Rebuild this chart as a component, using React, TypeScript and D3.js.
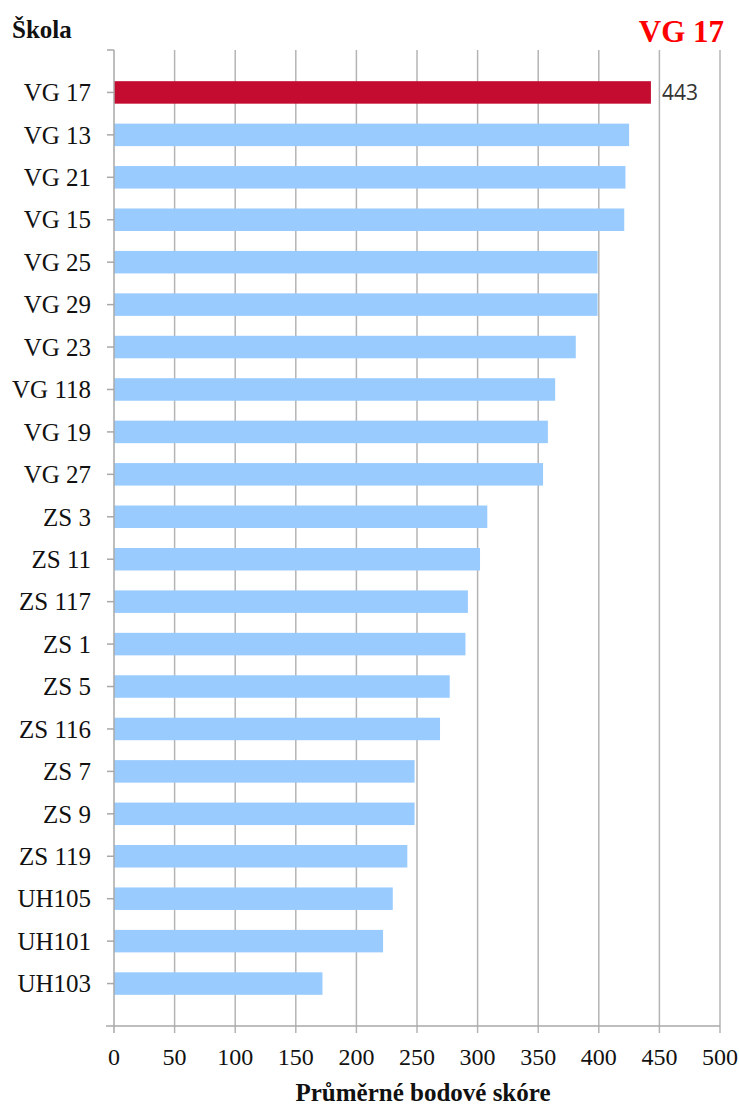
import React, { useEffect, useRef } from "react";
import * as d3 from "d3";

const schools = [
  "VG 17", "VG 13", "VG 21", "VG 15", "VG 25", "VG 29", "VG 23", "VG 118",
  "VG 19", "VG 27", "ZS 3", "ZS 11", "ZS 117", "ZS 1", "ZS 5", "ZS 116",
  "ZS 7", "ZS 9", "ZS 119", "UH105", "UH101", "UH103",
];
const scores = [
  443, 425, 422, 421, 399, 399, 381, 364, 358, 354, 308, 302, 292, 290, 277,
  269, 248, 248, 242, 230, 222, 172,
];
const xTicks = [0, 50, 100, 150, 200, 250, 300, 350, 400, 450, 500];
const highlight = "VG 17";

const W = 739;
const H = 1106;
const left = 114;
const right = 720;
const top = 50;
const bottom = 1026;
const serif = "'Liberation Serif', 'Times New Roman', serif";

export default function App() {
  const ref = useRef<SVGSVGElement>(null);

  useEffect(() => {
    const svg = d3.select(ref.current);
    svg.selectAll("*").remove();

    const x = d3.scaleLinear().domain([0, 500]).range([left, right]);
    const y = d3.scalePoint<string>().domain(schools).range([top, bottom]).padding(1);
    const barH = 22.5;

    // gridlines
    svg
      .append("g")
      .selectAll("line")
      .data(xTicks.slice(1))
      .enter()
      .append("line")
      .attr("x1", (d) => x(d))
      .attr("x2", (d) => x(d))
      .attr("y1", top)
      .attr("y2", bottom + 7)
      .attr("stroke", "#b4b4b4")
      .attr("stroke-width", 1.5);

    // bars
    const data = schools.map((s, i) => ({ school: s, score: scores[i] }));
    svg
      .append("g")
      .selectAll("rect")
      .data(data)
      .enter()
      .append("rect")
      .attr("x", x(0))
      .attr("y", (d) => (y(d.school) as number) - barH / 2)
      .attr("width", (d) => x(d.score) - x(0))
      .attr("height", barH)
      .attr("fill", (d) => (d.school === highlight ? "#c40c31" : "#99cbff"));

    // value label for highlighted school
    const hi = data.find((d) => d.school === highlight)!;
    svg
      .append("text")
      .attr("x", x(hi.score) + 11)
      .attr("y", y(hi.school) as number)
      .attr("dy", "0.36em")
      .attr("font-family", "'Open Sans', 'DejaVu Sans', sans-serif")
      .attr("font-size", 21)
      .attr("fill", "#333")
      .text(hi.score);

    // y axis
    const ya = svg.append("g").attr("stroke", "#a8a8a8").attr("stroke-width", 1.5);
    ya.append("line").attr("x1", left).attr("x2", left).attr("y1", top).attr("y2", bottom);
    ya.selectAll("line.tk")
      .data([top, ...schools.map((s) => y(s) as number)])
      .enter()
      .append("line")
      .attr("class", "tk")
      .attr("x1", left - 7)
      .attr("x2", left)
      .attr("y1", (d) => d)
      .attr("y2", (d) => d);

    svg
      .append("g")
      .selectAll("text")
      .data(schools)
      .enter()
      .append("text")
      .attr("x", 91)
      .attr("y", (d) => y(d) as number)
      .attr("dy", "0.35em")
      .attr("text-anchor", "end")
      .attr("font-family", serif)
      .attr("font-size", 25)
      .attr("fill", "#111")
      .text((d) => d);

    // x axis
    const xa = svg.append("g").attr("stroke", "#a8a8a8").attr("stroke-width", 1.5);
    xa.append("line").attr("x1", left - 8).attr("x2", right).attr("y1", bottom).attr("y2", bottom);
    xa.append("line").attr("x1", left).attr("x2", left).attr("y1", bottom).attr("y2", bottom + 7);

    svg
      .append("g")
      .selectAll("text")
      .data(xTicks)
      .enter()
      .append("text")
      .attr("x", (d) => x(d))
      .attr("y", 1057)
      .attr("dy", "0.35em")
      .attr("text-anchor", "middle")
      .attr("font-family", serif)
      .attr("font-size", 24)
      .attr("fill", "#111")
      .text((d) => d);

    svg
      .append("text")
      .attr("x", 423)
      .attr("y", 1101)
      .attr("text-anchor", "middle")
      .attr("font-family", serif)
      .attr("font-weight", "bold")
      .attr("font-size", 25)
      .attr("fill", "#111")
      .text("Průměrné bodové skóre");

    svg
      .append("text")
      .attr("x", 12)
      .attr("y", 38)
      .attr("font-family", serif)
      .attr("font-weight", "bold")
      .attr("font-size", 25)
      .attr("fill", "#111")
      .text("Škola");

    svg
      .append("text")
      .attr("x", 724)
      .attr("y", 42)
      .attr("text-anchor", "end")
      .attr("font-family", serif)
      .attr("font-weight", "bold")
      .attr("font-size", 31)
      .attr("fill", "#ff0000")
      .text(highlight);
  }, []);

  return (
    <div style={{ position: "absolute", left: 0, top: 0 }}>
      <svg ref={ref} width={W} height={H} style={{ background: "#fff", display: "block" }}></svg>
    </div>
  );
}
